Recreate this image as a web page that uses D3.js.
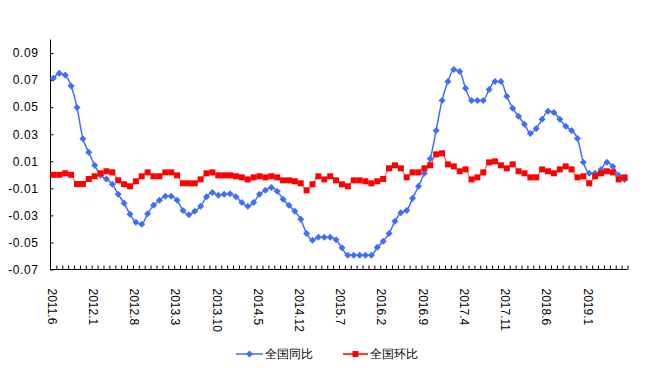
<!DOCTYPE html>
<html><head><meta charset="utf-8">
<script src="https://cdn.jsdelivr.net/npm/d3@7"></script>
<style>
html,body{margin:0;padding:0;background:#fff;}
svg{display:block;}
text{font-family:"Liberation Sans",Arial,sans-serif;}
</style></head>
<body>
<svg id="chart" width="653" height="384"></svg>
<script>
// ---------- DATA ----------
const categories = [
 "2011.6","2011.7","2011.8","2011.9","2011.10","2011.11","2011.12",
 "2012.1","2012.2","2012.3","2012.4","2012.5","2012.6","2012.7","2012.8","2012.9","2012.10","2012.11","2012.12",
 "2013.1","2013.2","2013.3","2013.4","2013.5","2013.6","2013.7","2013.8","2013.9","2013.10","2013.11","2013.12",
 "2014.1","2014.2","2014.3","2014.4","2014.5","2014.6","2014.7","2014.8","2014.9","2014.10","2014.11","2014.12",
 "2015.1","2015.2","2015.3","2015.4","2015.5","2015.6","2015.7","2015.8","2015.9","2015.10","2015.11","2015.12",
 "2016.1","2016.2","2016.3","2016.4","2016.5","2016.6","2016.7","2016.8","2016.9","2016.10","2016.11","2016.12",
 "2017.1","2017.2","2017.3","2017.4","2017.5","2017.6","2017.7","2017.8","2017.9","2017.10","2017.11","2017.12",
 "2018.1","2018.2","2018.3","2018.4","2018.5","2018.6","2018.7","2018.8","2018.9","2018.10","2018.11","2018.12",
 "2019.1","2019.2","2019.3","2019.4","2019.5","2019.6","2019.7"
];
const tickLabels = ["2011.6","2012.1","2012.8","2013.3","2013.10","2014.5","2014.12","2015.7","2016.2","2016.9","2017.4","2017.11","2018.6","2019.1"];
const yTicks = [-0.07,-0.05,-0.03,-0.01,0.01,0.03,0.05,0.07,0.09];
const yTickLabels = ["-0.07","-0.05","-0.03","-0.01","0.01","0.03","0.05","0.07","0.09"];
const seriesNames = ["全国同比","全国环比"];
// 全国同比 (year-on-year)
const yoy = [
 0.0713,0.0750,0.0737,0.0656,0.0498,0.0266,0.0166,0.0070,-0.0004,-0.0031,
 -0.0070,-0.0144,-0.0211,-0.0292,-0.0351,-0.0366,-0.0288,-0.0226,-0.0189,-0.0159,
 -0.0159,-0.0189,-0.0263,-0.0295,-0.0269,-0.0233,-0.0162,-0.0130,-0.0152,-0.0144,
 -0.0140,-0.0162,-0.0204,-0.0233,-0.0204,-0.0144,-0.0115,-0.0093,-0.0122,-0.0181,
 -0.0226,-0.0270,-0.0329,-0.0433,-0.0484,-0.0462,-0.0462,-0.0462,-0.0480,-0.0540,
 -0.0595,-0.0595,-0.0595,-0.0595,-0.0595,-0.0536,-0.0492,-0.0433,-0.0344,-0.0281,
 -0.0263,-0.0174,-0.0085,0.0011,0.0118,0.0328,0.0550,0.0690,0.0779,0.0764,
 0.0639,0.0550,0.0550,0.0550,0.0631,0.0690,0.0690,0.0580,0.0491,0.0432,
 0.0373,0.0306,0.0343,0.0410,0.0469,0.0461,0.0410,0.0358,0.0328,0.0269,
 0.0092,0.0011,0.0011,0.0040,0.0092,0.0062,-0.0004,-0.0034
];
// 全国环比 (month-on-month)
const mom = [
 0.0000,0.0000,0.0011,0.0000,-0.0068,-0.0068,-0.0031,-0.0011,0.0011,0.0026,
 0.0018,-0.0041,-0.0070,-0.0085,-0.0048,-0.0011,0.0018,-0.0011,-0.0011,0.0018,
 0.0018,-0.0004,-0.0063,-0.0063,-0.0063,-0.0034,0.0011,0.0018,-0.0004,-0.0004,
 -0.0004,-0.0011,-0.0019,-0.0034,-0.0019,-0.0011,-0.0019,-0.0011,-0.0019,-0.0041,
 -0.0041,-0.0048,-0.0063,-0.0115,-0.0070,-0.0011,-0.0034,-0.0011,-0.0041,-0.0070,
 -0.0085,-0.0041,-0.0041,-0.0048,-0.0063,-0.0048,-0.0031,0.0048,0.0070,0.0048,
 -0.0019,0.0018,0.0018,0.0048,0.0070,0.0151,0.0159,0.0077,0.0062,0.0026,
 0.0040,-0.0034,-0.0019,0.0018,0.0092,0.0099,0.0070,0.0048,0.0077,0.0026,
 0.0011,-0.0019,-0.0019,0.0040,0.0026,0.0011,0.0040,0.0062,0.0040,-0.0019,
 -0.0011,-0.0063,-0.0011,0.0011,0.0026,0.0018,-0.0034,-0.0019
];
const colors = ["#3F6FF6","#FF0000"];

// ---------- CHART ----------
const svg = d3.select("#chart");
const mLeft = 50.5, mRight = 627.5, mTop = 39.5, mBottom = 269.5;

const x = d3.scaleBand().domain(categories).range([mLeft, mRight]).padding(0);
const xc = d => x(d) + x.bandwidth() / 2;
const y = d3.scaleLinear().domain([-0.07, 0.10]).range([mBottom, mTop]);
const xb = d3.scaleLinear().domain([0, categories.length]).range([mLeft, mRight]);

// Y axis
const yAxis = svg.append("g").attr("transform", `translate(${mLeft},0)`)
  .call(d3.axisLeft(y).tickValues(yTicks).tickSize(-3).tickPadding(12)
    .tickFormat((d, i) => yTickLabels[i]));
yAxis.select(".domain").attr("d", `M0,${mTop}V${mBottom}`).attr("stroke", "#000");
yAxis.selectAll(".tick line").attr("stroke", "#000");
yAxis.selectAll("text").attr("font-size", 12).attr("fill", "#000").attr("letter-spacing", "0.6px");

// X axis ticks at category boundaries
const xAxis = svg.append("g").attr("transform", `translate(0,${mBottom})`)
  .call(d3.axisBottom(xb).tickValues(d3.range(1, categories.length + 1)).tickSize(-4).tickFormat(""));
xAxis.select(".domain").attr("d", `M${mLeft},0H${mRight}`).attr("stroke", "#000");
xAxis.selectAll(".tick line").attr("stroke", "#000");

// X labels (rotated)
const xLab = svg.append("g").attr("transform", `translate(0,${mBottom})`)
  .call(d3.axisBottom(x).tickValues(tickLabels).tickSize(0).tickPadding(0));
xLab.select(".domain").remove();
xLab.selectAll(".tick text")
  .attr("transform", "translate(-1.5,19) rotate(90)")
  .attr("text-anchor", "start").attr("dy", "0.35em").attr("y", 0).attr("x", 0)
  .attr("font-size", 12).attr("fill", "#000");

// Lines
const line = d3.line().x((d, i) => xc(categories[i])).y(d => y(d)).curve(d3.curveMonotoneX);
svg.append("path").datum(yoy).attr("fill", "none").attr("stroke", colors[0]).attr("stroke-width", 1.5).attr("d", line);
svg.append("path").datum(mom).attr("fill", "none").attr("stroke", colors[1]).attr("stroke-width", 1).attr("stroke-opacity", 0.8).attr("d", line);

const diamond = "M0,-3.5L3.5,0L0,3.5L-3.5,0Z";
svg.append("g").selectAll("path").data(yoy).join("path")
  .attr("d", diamond).attr("fill", colors[0])
  .attr("transform", (d, i) => `translate(${xc(categories[i])},${y(d)})`);
svg.append("g").selectAll("rect").data(mom).join("rect")
  .attr("x", (d, i) => xc(categories[i]) - 3).attr("y", d => y(d) - 3)
  .attr("width", 6).attr("height", 6).attr("fill", colors[1]);

// Legend
const lg = svg.append("g");
const legendItems = [{x1: 236, x2: 263, tx: 265}, {x1: 343, x2: 368, tx: 370}];
legendItems.forEach((it, k) => {
  lg.append("line").attr("x1", it.x1).attr("x2", it.x2).attr("y1", 354).attr("y2", 354)
    .attr("stroke", colors[k]).attr("stroke-width", 1.5);
  const cx = (it.x1 + it.x2) / 2;
  if (k === 0) lg.append("path").attr("d", diamond).attr("fill", colors[0]).attr("transform", `translate(${cx},354)`);
  else lg.append("rect").attr("x", cx - 3).attr("y", 351).attr("width", 6).attr("height", 6).attr("fill", colors[1]);
  lg.append("text").attr("x", it.tx).attr("y", 354).attr("dy", "0.36em")
    .attr("font-family", "'Noto Sans CJK SC',sans-serif").attr("font-size", 12).attr("fill", "#000")
    .text(seriesNames[k]);
});
</script>
</body></html>
